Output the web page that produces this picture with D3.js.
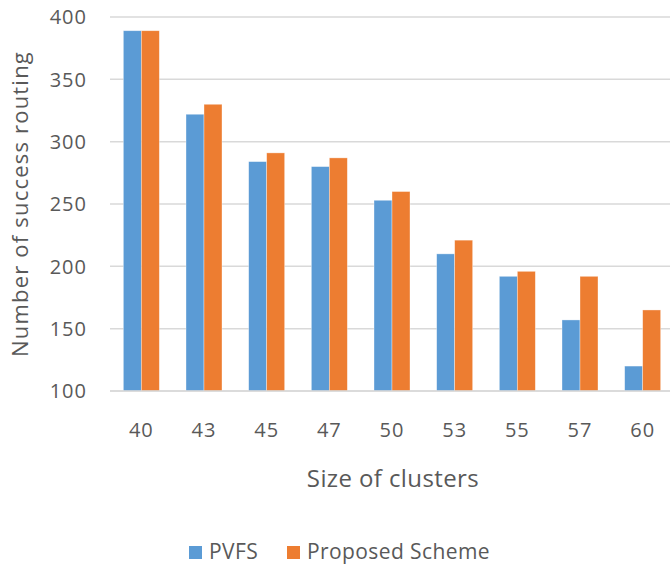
<!DOCTYPE html>
<html>
<head>
<meta charset="utf-8">
<script src="https://cdn.jsdelivr.net/npm/d3@7"></script>
<style>
    body { margin: 0; background: #fff; }
    text { font-family: "Open Sans", sans-serif; fill: #595959; }
</style>
</head>
<body>
<div id="chart"></div>
<script>
// chart data
const clusterSizes = ["40", "43", "45", "47", "50", "53", "55", "57", "60"];
const pvfs = [389, 322, 284, 280, 253, 210, 192, 157, 120];
const proposed = [389, 330, 291, 287, 260, 221, 196, 192, 165];
const yTicks = [100, 150, 200, 250, 300, 350, 400];
const seriesNames = ["PVFS", "Proposed Scheme"];
const seriesColors = ["#5B9BD5", "#ED7D31"];

const W = 670, H = 565;

const svg = d3.select("#chart").append("svg")
    .attr("width", W).attr("height", H);

/* scales */
const x = d3.scaleBand().domain(clusterSizes).range([110, 674]);
const y = d3.scaleLinear().domain([100, 400]).range([391, 17]);
const barW = 18;
const sub = d3.scaleBand().domain(seriesNames)
    .range([x.bandwidth() / 2 - barW, x.bandwidth() / 2 + barW]);

/* gridlines */
svg.append("g")
    .selectAll("line")
    .data(yTicks)
    .join("line")
    .attr("x1", 110).attr("x2", W)
    .attr("y1", d => y(d)).attr("y2", d => y(d))
    .attr("stroke", "#d9d9d9")
    .attr("stroke-width", 1.5);

/* y tick labels */
svg.append("g")
    .selectAll("text")
    .data(yTicks)
    .join("text")
    .attr("x", 87)
    .attr("y", d => y(d))
    .attr("dy", "0.36em")
    .attr("text-anchor", "end")
    .attr("font-size", 20)
    .attr("letter-spacing", 1)
    .text(d => d);

/* bars */
const series = [pvfs, proposed];
const groups = svg.append("g")
    .selectAll("g")
    .data(clusterSizes)
    .join("g")
    .attr("transform", d => `translate(${x(d)},0)`);

groups.selectAll("rect")
    .data((d, i) => seriesNames.map((s, j) => ({ s: s, v: series[j][i], c: seriesColors[j] })))
    .join("rect")
    .attr("x", d => sub(d.s))
    .attr("width", sub.bandwidth())
    .attr("y", d => y(d.v))
    .attr("height", d => y(100) - y(d.v))
    .attr("fill", d => d.c)
    .attr("stroke", "#fff")
    .attr("stroke-opacity", 0.5)
    .attr("stroke-width", 0.7);

/* baseline */
svg.append("line")
    .attr("x1", 110).attr("x2", W)
    .attr("y1", y(100)).attr("y2", y(100))
    .attr("stroke", "#d9d9d9").attr("stroke-width", 1.5);

/* x tick labels */
svg.append("g")
    .selectAll("text")
    .data(clusterSizes)
    .join("text")
    .attr("x", d => x(d) + x.bandwidth() / 2)
    .attr("y", 437)
    .attr("text-anchor", "middle")
    .attr("font-size", 20)
    .attr("letter-spacing", 1)
    .text(d => d);

/* axis titles */
svg.append("text")
    .attr("x", 393).attr("y", 487)
    .attr("text-anchor", "middle")
    .attr("font-size", 24)
    .attr("letter-spacing", 0.4)
    .text("Size of clusters");

svg.append("text")
    .attr("transform", `translate(28, ${(y(100) + y(400)) / 2}) rotate(-90)`)
    .attr("text-anchor", "middle")
    .attr("font-size", 22)
    .attr("letter-spacing", 1.2)
    .text("Number of success routing");

/* legend */
const legend = svg.append("g");
const legendX = [189, 287];
seriesNames.forEach(function(name, i) {
    legend.append("rect")
        .attr("x", legendX[i]).attr("y", 546)
        .attr("width", 13).attr("height", 13)
        .attr("fill", seriesColors[i]);
    legend.append("text")
        .attr("x", legendX[i] + 20).attr("y", 559)
        .attr("font-size", 21)
        .attr("letter-spacing", 0.4)
        .text(name);
});
</script>
</body>
</html>
